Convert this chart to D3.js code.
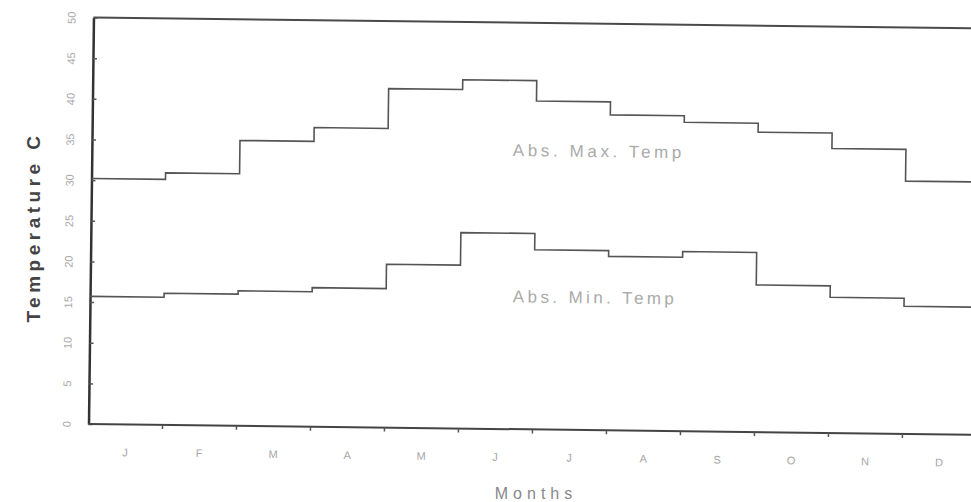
<!DOCTYPE html>
<html>
<head>
<meta charset="utf-8">
<script src="https://cdn.jsdelivr.net/npm/d3@7"></script>
<style>
body{margin:0;background:#fff;}
svg{display:block;font-family:"Liberation Sans",Arial,sans-serif;}
</style>
</head>
<body>
<div id="chart"></div>
<script>
// month labels, values (deg C)
const months = ["J","F","M","A","M","J","J","A","S","O","N","D"]
const absMax = [30.2,31.0,35.1,36.8,41.7,42.9,40.4,38.8,38.0,36.9,35.0,31.1]
const absMin = [15.7,16.2,16.6,17.1,20.1,24.1,22.1,21.4,22.1,18.1,16.7,15.7]
const yTicks = [0,5,10,15,20,25,30,35,40,45,50]

const W = 971, H = 502
// note: "top" is taken by window.top, so plot edges get their own names
const plotL = 91, plotR = 979, plotT = 17.5, plotB = 424
// the scanned page sits a little crooked
const tilt = 0.7

const svg = d3.select("#chart").append("svg").attr("width", W).attr("height", H)

const x = d3.scaleBand().domain(d3.range(months.length)).range([plotL, plotR])
const y = d3.scaleLinear().domain([0, 50]).range([plotB, plotT])

const g = svg.append("g").attr("transform", `rotate(${tilt} ${plotL} 220)`)

// frame
g.append("line").attr("x1", plotL).attr("x2", plotR).attr("y1", y(50)).attr("y2", y(50))
	.attr("stroke", "#4a4a4a").attr("stroke-width", 2)
g.append("line").attr("x1", plotR).attr("x2", plotR).attr("y1", y(50)).attr("y2", y(0))
	.attr("stroke", "#4a4a4a").attr("stroke-width", 2)

// y axis, ticks point inward, labels turned on their side
const ya = g.append("g").attr("transform", `translate(${plotL},0)`)
	.call(d3.axisLeft(y).tickValues(yTicks).tickSizeInner(-4).tickSizeOuter(0))
ya.select(".domain").attr("stroke", "#333").attr("stroke-width", 2.5)
ya.selectAll(".tick line").attr("stroke", "#555").attr("stroke-width", 1.5)
ya.selectAll(".tick text")
	.attr("x", 0).attr("y", -18).attr("dy", null)
	.attr("transform", "rotate(-90)").attr("text-anchor", "middle")
	.attr("font-size", 11).attr("fill", "#aaa")

// x axis, labels centred in each month, ticks on the month boundaries
const xa = g.append("g").attr("transform", `translate(0,${plotB})`)
	.call(d3.axisBottom(x).tickFormat(i => months[i]).tickSize(0).tickPadding(24))
xa.select(".domain").remove()
xa.selectAll(".tick text").attr("font-size", 11).attr("fill", "#a5a5a5")
g.append("line").attr("x1", plotL).attr("x2", plotR).attr("y1", plotB).attr("y2", plotB)
	.attr("stroke", "#444").attr("stroke-width", 2)
g.append("g").selectAll("line").data(d3.range(1, months.length)).enter().append("line")
	.attr("x1", i => x(i)).attr("x2", i => x(i))
	.attr("y1", plotB).attr("y2", plotB + 4)
	.attr("stroke", "#555").attr("stroke-width", 1.5)

// stepped series
const step = d3.line().curve(d3.curveStepAfter)
function stepPts(vals){
	let pts = vals.map((v, i) => [x(i), y(v)])
	pts.push([x.range()[1], y(vals[vals.length - 1])])
	return pts
}
;[absMax, absMin].forEach(function(s){
	g.append("path").attr("d", step(stepPts(s)))
		.attr("fill", "none").attr("stroke", "#555").attr("stroke-width", 1.6)
})

// in-plot labels
g.append("text").attr("x", 598).attr("y", y(33.6)).attr("text-anchor", "middle")
	.attr("font-size", 17).attr("letter-spacing", 3.6).attr("fill", "#aaa")
	.text("Abs. Max. Temp")
g.append("text").attr("x", 596).attr("y", y(15.6)).attr("text-anchor", "middle")
	.attr("font-size", 17).attr("letter-spacing", 3.4).attr("fill", "#aaa")
	.text("Abs. Min. Temp")

// axis titles
svg.append("text").attr("transform", "translate(40,227) rotate(-90)").attr("text-anchor", "middle")
	.attr("font-size", 19).attr("font-weight", "bold").attr("letter-spacing", 4.5).attr("fill", "#444")
	.text("Temperature C")
svg.append("text").attr("x", 536).attr("y", 499).attr("text-anchor", "middle")
	.attr("font-size", 16).attr("letter-spacing", 5).attr("fill", "#888")
	.text("Months")
</script>
</body>
</html>
